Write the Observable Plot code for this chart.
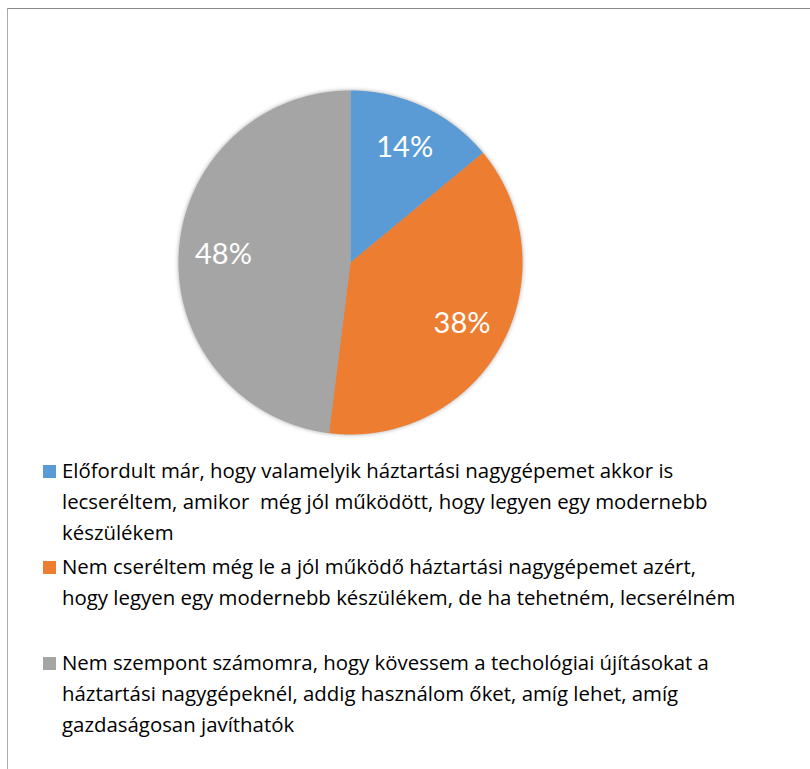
<!DOCTYPE html>
<html>
<head>
<meta charset="utf-8">
<script src="https://cdn.jsdelivr.net/npm/d3@7"></script>
<script src="https://cdn.jsdelivr.net/npm/@observablehq/plot@0.6"></script>
<style>
  html, body { margin: 0; padding: 0; background: #fff; width: 810px; height: 769px; overflow: hidden; }
  #frame { position: absolute; left: 7px; top: 8px; width: 820px; height: 780px;
           border-top: 1.5px solid #8a8a8a; border-left: 1.5px solid #ababab; }
  #chart { position: absolute; left: 0; top: 0; }
  #chart svg g[aria-label="line"] { filter: drop-shadow(0px 0px 2px rgba(0,0,0,0.35)); }
  #legend { position: absolute; left: 43px; top: 455px; font-family: "Open Sans", sans-serif;
            font-size: 20.4px; line-height: 31px; color: #000; }
  .item { display: flex; align-items: flex-start; height: 96px; }
  .sw { width: 13px; height: 13px; margin-top: 10px; margin-right: 6px; flex: none; }
</style>
</head>
<body>
<div id="frame"></div>
<div id="chart"></div>
<div id="legend"></div>
<script>
const categories = [
  "Előfordult már, hogy valamelyik háztartási nagygépemet akkor is lecseréltem, amikor  még jól működött, hogy legyen egy modernebb készülékem",
  "Nem cseréltem még le a jól működő háztartási nagygépemet azért, hogy legyen egy modernebb készülékem, de ha tehetném, lecserélném",
  "Nem szempont számomra, hogy kövessem a techológiai újításokat a háztartási nagygépeknél, addig használom őket, amíg lehet, amíg gazdaságosan javíthatók"
];
const legendLines = [
  ["Előfordult már, hogy valamelyik háztartási nagygépemet akkor is", "lecseréltem, amikor  még jól működött, hogy legyen egy modernebb", "készülékem"],
  ["Nem cseréltem még le a jól működő háztartási nagygépemet azért,", "hogy legyen egy modernebb készülékem, de ha tehetném, lecserélném"],
  ["Nem szempont számomra, hogy kövessem a techológiai újításokat a", "háztartási nagygépeknél, addig használom őket, amíg lehet, amíg", "gazdaságosan javíthatók"]
];
const values = [14, 38, 48];
const colors = ["#5B9BD5", "#ED7D31", "#A5A5A5"];
const labels = ["14%", "38%", "48%"];

const data = categories.map((c, i) => ({key: c, value: values[i], label: labels[i]}));
const arcs = d3.pie().sort(null).value(d => d.value)(data);

// polygon outlines for each slice (angles from d3.pie, clockwise from top)
const slicePts = [];
arcs.forEach(a => {
  const n = Math.max(2, Math.ceil((a.endAngle - a.startAngle) / 0.005));
  slicePts.push({key: a.data.key, x: 0, y: 0});
  for (let k = 0; k <= n; k++) {
    const t = a.startAngle + (a.endAngle - a.startAngle) * k / n;
    slicePts.push({key: a.data.key, x: Math.sin(t), y: Math.cos(t)});
  }
  slicePts.push({key: a.data.key, x: 0, y: 0});
});
const labelPts = arcs.map(a => {
  const m = (a.startAngle + a.endAngle) / 2;
  const r = 0.74;
  return {label: a.data.label, x: r * Math.sin(m), y: r * Math.cos(m)};
});

const chart = Plot.plot({
  width: 810,
  height: 445,
  marginLeft: 178,
  marginRight: 288,
  marginTop: 90,
  marginBottom: 11,
  x: {domain: [-1, 1], axis: null},
  y: {domain: [-1, 1], axis: null},
  color: {domain: categories, range: colors},
  style: {background: "transparent"},
  marks: [
    Plot.line(slicePts, {x: "x", y: "y", z: "key", fill: "key", stroke: "none", curve: "linear"}),
    Plot.text(labelPts, {x: "x", y: "y", text: "label", fill: "white", fontSize: 29,
      fontFamily: "Lato, sans-serif"})
  ]
});
document.getElementById("chart").appendChild(chart);

const legend = document.getElementById("legend");
legendLines.forEach((lines, i) => {
  const item = document.createElement("div");
  item.className = "item";
  const sw = document.createElement("div");
  sw.className = "sw";
  sw.style.background = chart.scale("color").apply(categories[i]);
  const tx = document.createElement("div");
  tx.style.whiteSpace = "nowrap";
  tx.innerHTML = lines.map(l => l.replace(/  /g, " &nbsp;")).join("<br>");
  item.appendChild(sw);
  item.appendChild(tx);
  legend.appendChild(item);
});
</script>
</body>
</html>
